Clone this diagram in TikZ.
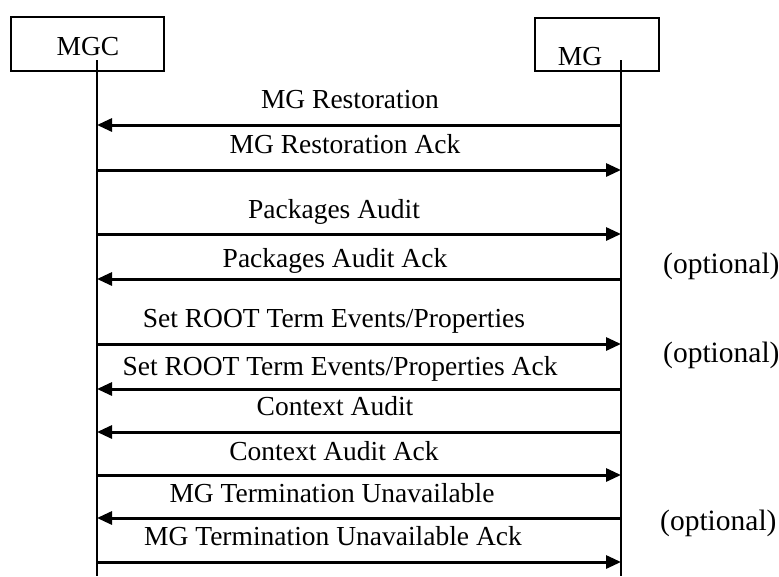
\documentclass[tikz,border=0pt]{standalone}
\usepackage{fontspec}
\setmainfont{Liberation Serif}
\usetikzlibrary{arrows.meta}
\tikzset{
  entity/.style={draw,line width=1.5pt,inner sep=0pt,anchor=north west},
  lifeline/.style={line width=1.3pt},
  sig/.style={line width=3pt,-{Triangle[length=15pt,width=13pt]}},
  msgtext/.style={anchor=base,inner sep=0pt},
  note/.style={anchor=base west,inner sep=0pt,font=\fontsize{29.5}{34}\selectfont},
}

\begin{document}
\begin{tikzpicture}[x=1pt,y=-1pt,font=\fontsize{27.5}{32}\selectfont]
  \useasboundingbox (0,0) rectangle (779,576);
  % Entities
  \node[entity,minimum width=153pt,minimum height=54pt] (mgcbox) at (10,16) {};
  \node[msgtext] (mgclabel) at (88,55) {MGC};
  \node[entity,minimum width=124pt,minimum height=53pt] (mgbox) at (534,17) {};
  \node[msgtext] (mglabel) at (580,65) {MG};
  % Lifelines
  \coordinate (mgc top) at (97,60);
  \coordinate (mgc bot) at (97,576);
  \coordinate (mg top) at (621,60);
  \coordinate (mg bot) at (621,576);
  \draw[lifeline] (mgc top) -- (mgc bot);
  \draw[lifeline] (mg top) -- (mg bot);
  % Messages
  \foreach \i/\y/\tx/\ty/\from/\to/\msg in {
      1/125/350/108/mg/mgc/{MG Restoration},
      2/170/345/153/mgc/mg/{MG Restoration Ack},
      3/234/334/218/mgc/mg/{Packages Audit},
      4/279/335/267/mg/mgc/{Packages Audit Ack},
      5/344/334/327/mgc/mg/{Set ROOT Term Events/Properties},
      6/389/340/375/mg/mgc/{Set ROOT Term Events/Properties Ack},
      7/432/335/415/mg/mgc/{Context Audit},
      8/475/334/460/mgc/mg/{Context Audit Ack},
      9/518/332/502/mg/mgc/{MG Termination Unavailable},
      10/562/333/545/mgc/mg/{MG Termination Unavailable Ack}} {
    \coordinate (mgc-\i) at (97,\y);
    \coordinate (mg-\i) at (621,\y);
    \draw[sig] (\from-\i) -- (\to-\i);
    \node[msgtext] (msg-\i) at (\tx,\ty) {\msg};
  }
  % Optional notes
  \node[note] (opt-1) at (663,273) {(optional)};
  \node[note] (opt-2) at (663,362) {(optional)};
  \node[note] (opt-3) at (660,530) {(optional)};
\end{tikzpicture}
\end{document}
